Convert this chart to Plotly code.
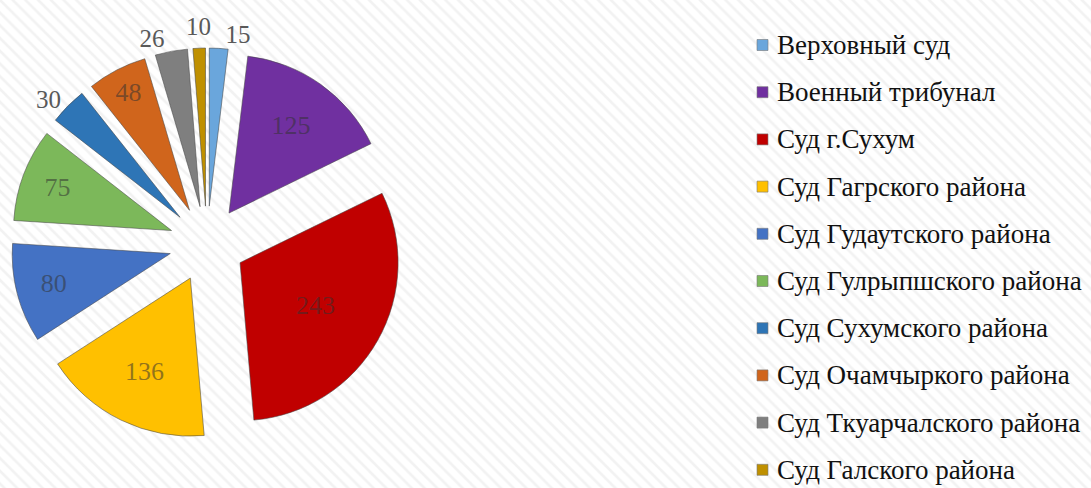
import math
import plotly.graph_objects as go

labels = ["Верховный суд", "Военный трибунал", "Суд г.Сухум", "Суд Гагрского района",
          "Суд Гудаутского района", "Суд Гулрыпшского района", "Суд Сухумского района",
          "Суд Очамчыркого района", "Суд Ткуарчалского района", "Суд Галского района"]
values = [15, 125, 243, 136, 80, 75, 30, 48, 26, 10]
colors = ["#6aa6dc", "#7030a0", "#c00000", "#ffc000", "#4472c4",
          "#7cb85a", "#2e75b6", "#d0651c", "#7f7f7f", "#bf9000"]
text_pos = ["outside", "inside", "inside", "inside", "inside",
            "inside", "outside", "inside", "outside", "none"]

W, H = 1091, 488
PULL = 0.24
DOM_X = [11, 403]   # pixels
DOM_Y = [48, 440]   # pixels from top

fig = go.Figure()

# hatched background
fig.add_trace(go.Scatter(
    x=[0, 1, 1, 0, 0], y=[0, 0, 1, 1, 0], mode="lines", fill="toself",
    line=dict(width=0), fillcolor="white", hoverinfo="skip", showlegend=False,
    fillpattern=dict(shape="\\", size=9, solidity=0.3, fgcolor="#e6e6e6", bgcolor="white"),
))

fig.add_trace(go.Pie(
    labels=labels, values=values, sort=False, direction="clockwise", rotation=0,
    marker=dict(colors=colors, line=dict(color="rgba(70,70,70,0.55)", width=1)),
    pull=[PULL] * len(values),
    textinfo="value", textposition=text_pos,
    insidetextorientation="horizontal",
    insidetextfont=dict(family="Liberation Serif", size=26, color="rgba(50,50,50,0.55)"),
    outsidetextfont=dict(family="Liberation Serif", size=25, color="#595959"),
    domain=dict(x=[DOM_X[0] / W, DOM_X[1] / W], y=[1 - DOM_Y[1] / H, 1 - DOM_Y[0] / H]),
    automargin=False,
    showlegend=False, hoverinfo="label+value",
))

shapes = []
annotations = []

# value labels for slices whose pie text is hidden (placed just outside the slice)
cx = (DOM_X[0] + DOM_X[1]) / 2
cy = (DOM_Y[0] + DOM_Y[1]) / 2
r_out = (DOM_X[1] - DOM_X[0]) / 2
total = sum(values)
cum = 0
for v, pos in zip(values, text_pos):
    mid = (cum + v / 2) / total * 2 * math.pi
    cum += v
    if pos != "none":
        continue
    rr = r_out + 22
    px = cx + rr * math.sin(mid)
    py = cy - rr * math.cos(mid)
    annotations.append(dict(x=px / W, y=1 - py / H, xref="paper", yref="paper",
                            text=str(v), showarrow=False, xanchor="center", yanchor="middle",
                            font=dict(family="Liberation Serif", size=25, color="#595959")))

# manual legend
for i, (lab, col) in enumerate(zip(labels, colors)):
    yc = 45 + 47.2 * i
    shapes.append(dict(type="rect", xref="paper", yref="paper",
                       x0=757 / W, x1=768 / W, y0=1 - (yc + 5.5) / H, y1=1 - (yc - 5.5) / H,
                       fillcolor=col, line=dict(color="rgba(120,120,120,0.6)", width=1)))
    annotations.append(dict(x=775 / W, y=1 - yc / H, xref="paper", yref="paper",
                            text=lab, showarrow=False, xanchor="left", yanchor="middle",
                            font=dict(family="Liberation Serif", size=27, color="#111111")))

fig.update_layout(
    width=W, height=H, margin=dict(l=0, r=0, t=0, b=0, pad=0, autoexpand=False),
    paper_bgcolor="white", plot_bgcolor="white",
    xaxis=dict(range=[0, 1], visible=False, domain=[0, 1], fixedrange=True),
    yaxis=dict(range=[0, 1], visible=False, domain=[0, 1], fixedrange=True),
    shapes=shapes, annotations=annotations, showlegend=False,
)

fig.write_html("out.html")
